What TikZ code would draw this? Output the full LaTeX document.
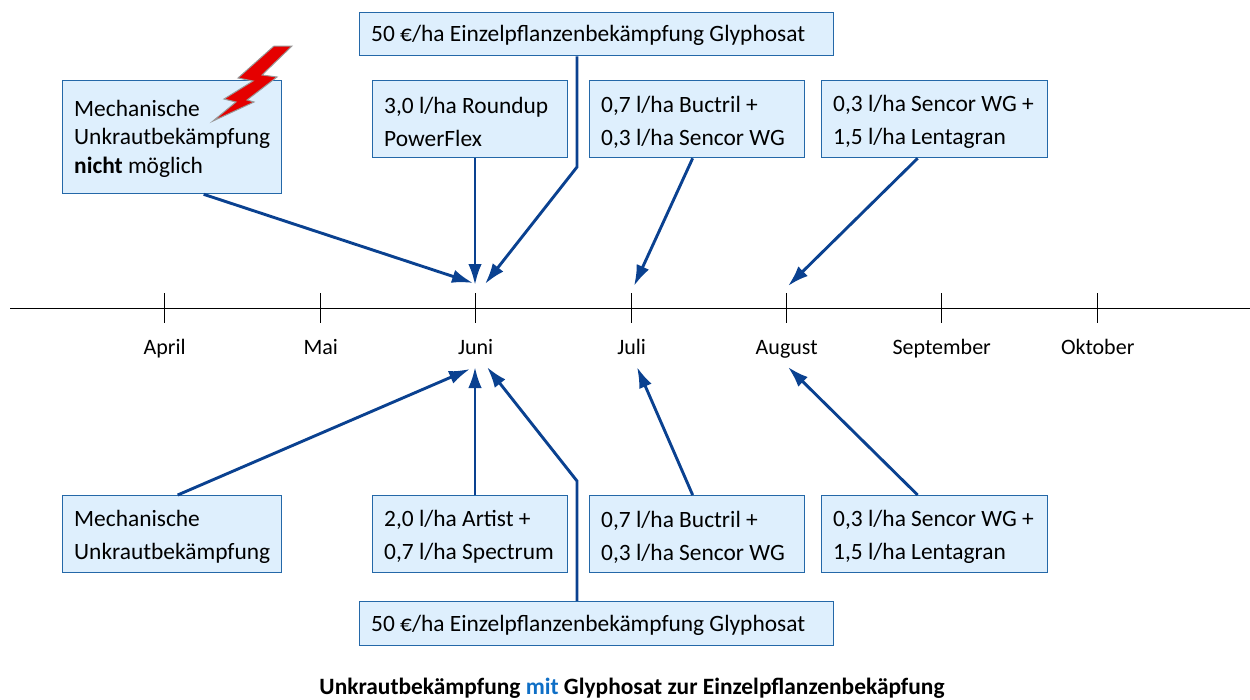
\documentclass[tikz,border=0pt]{standalone}
\usepackage{fontspec}
\setmainfont{Carlito}
\usetikzlibrary{arrows.meta,calc}
\definecolor{boxfill}{HTML}{DEEFFD}
\definecolor{boxline}{HTML}{2468A8}
\definecolor{arrowc}{HTML}{0A4190}
\definecolor{mitc}{HTML}{0F6FC6}
\tikzset{
  infobox/.style={draw=boxline,line width=1.3pt,fill=boxfill,rectangle,inner sep=0pt,text=black,anchor=north west},
  conn/.style={draw=arrowc,line width=2.9pt,-{Latex[length=21pt,width=13.5pt]}},
  monthlabel/.style={font=\fontsize{22}{26}\selectfont,text=black,anchor=center},
  tick/.style={draw=black,line width=1pt},
}
\newcommand{\infonode}[7][3.5]{%
  \node[infobox,minimum width=#5 pt - #3 pt,minimum height=#6 pt - #4 pt] (#2) at (#3,#4) {};
  \node[anchor=west,font=\fontsize{23.4}{33}\selectfont,align=left,inner sep=0pt] (#2t) at ($(#3,#4)!0.5!(#3,#6)+(12,#1)$) {#7};
}
\begin{document}
\begin{tikzpicture}[x=1pt,y=-1pt]
\useasboundingbox (0,0) rectangle (1250,699);
% timeline
\coordinate (tlL) at (10,308);
\coordinate (tlR) at (1250,308);
\draw[tick] (tlL) -- (tlR);
\foreach \x/\n/\t in {164.7/apr/April,320.7/mai/Mai,475.7/jun/Juni,631.7/jul/Juli,786.7/aug/August,941.7/sep/September,1097.7/okt/Oktober}{
  \coordinate (t\n a) at (\x,293);
  \coordinate (t\n b) at (\x,323);
  \draw[tick] (t\n a) -- (t\n b);
  \node[monthlabel,anchor=base] (l\n) at (\x,354) {\t};
}
% boxes
\infonode[2]{a}{62}{80}{281}{193}{Mechanische\\[-4.5pt]Unkrautbekämpfung\\[-4.5pt]\textbf{nicht} möglich}
\infonode[2]{g}{359}{12}{833}{55}{50 €/ha Einzelpflanzenbekämpfung Glyphosat}
\infonode{b}{372}{80}{567}{157}{3,0 l/ha Roundup\\PowerFlex}
\infonode{c}{589}{80}{804}{157}{0,7 l/ha Buctril +\\0,3 l/ha Sencor WG}
\infonode{d}{821}{80}{1047}{157}{0,3 l/ha Sencor WG +\\1,5 l/ha Lentagran}
\infonode{e}{62}{495}{281}{572}{Mechanische\\Unkrautbekämpfung}
\infonode{f}{372}{495}{567}{572}{2,0 l/ha Artist +\\0,7 l/ha Spectrum}
\infonode{h}{589}{495}{804}{572}{0,7 l/ha Buctril +\\0,3 l/ha Sencor WG}
\infonode{i}{821}{495}{1047}{572}{0,3 l/ha Sencor WG +\\1,5 l/ha Lentagran}
\infonode[2]{j}{359}{601}{833}{645}{50 €/ha Einzelpflanzenbekämpfung Glyphosat}
% lightning
\filldraw[draw=gray!80,line width=1pt,fill=red!90!black,line join=miter] (274,46)--(292,46)--(262,75)--(277,77)--(247,100)--(254,102)--(213,121)--(236,102)--(224,99)--(253,81)--(238,78)--cycle;
% connector end points
\coordinate (k1) at (577,167);
\coordinate (k2) at (577,481);
\coordinate (e1) at (473,283);
\coordinate (e2) at (475,285);
\coordinate (e3) at (485,284);
\coordinate (e4) at (634,286);
\coordinate (e5) at (788,286);
\coordinate (e6) at (470,369);
\coordinate (e7) at (475,367);
\coordinate (e8) at (487,367);
\coordinate (e9) at (637,367);
\coordinate (e10) at (788,367);
% connectors
\draw[conn] ([xshift=31.5pt]a.south) -- (e1);
\draw[conn] (b.south -| e2) -- (e2);
\draw[conn] (g.south -| k1) -- (k1) -- (e3);
\draw[conn] ([xshift=-4.5pt]c.south) -- (e4);
\draw[conn] ([xshift=-17pt]d.south) -- (e5);
\draw[conn] ([xshift=5.5pt]e.north) -- (e6);
\draw[conn] (f.north -| e7) -- (e7);
\draw[conn] (j.north -| k2) -- (k2) -- (e8);
\draw[conn] ([xshift=-4.5pt]h.north) -- (e9);
\draw[conn] ([xshift=-17pt]i.north) -- (e10);
% caption
\node[font=\fontsize{23.4}{28}\selectfont\bfseries,text=black,anchor=center] (cap) at (632,688) {Unkrautbekämpfung \textcolor{mitc}{mit} Glyphosat zur Einzelpflanzenbekäpfung};
\end{tikzpicture}
\end{document}
